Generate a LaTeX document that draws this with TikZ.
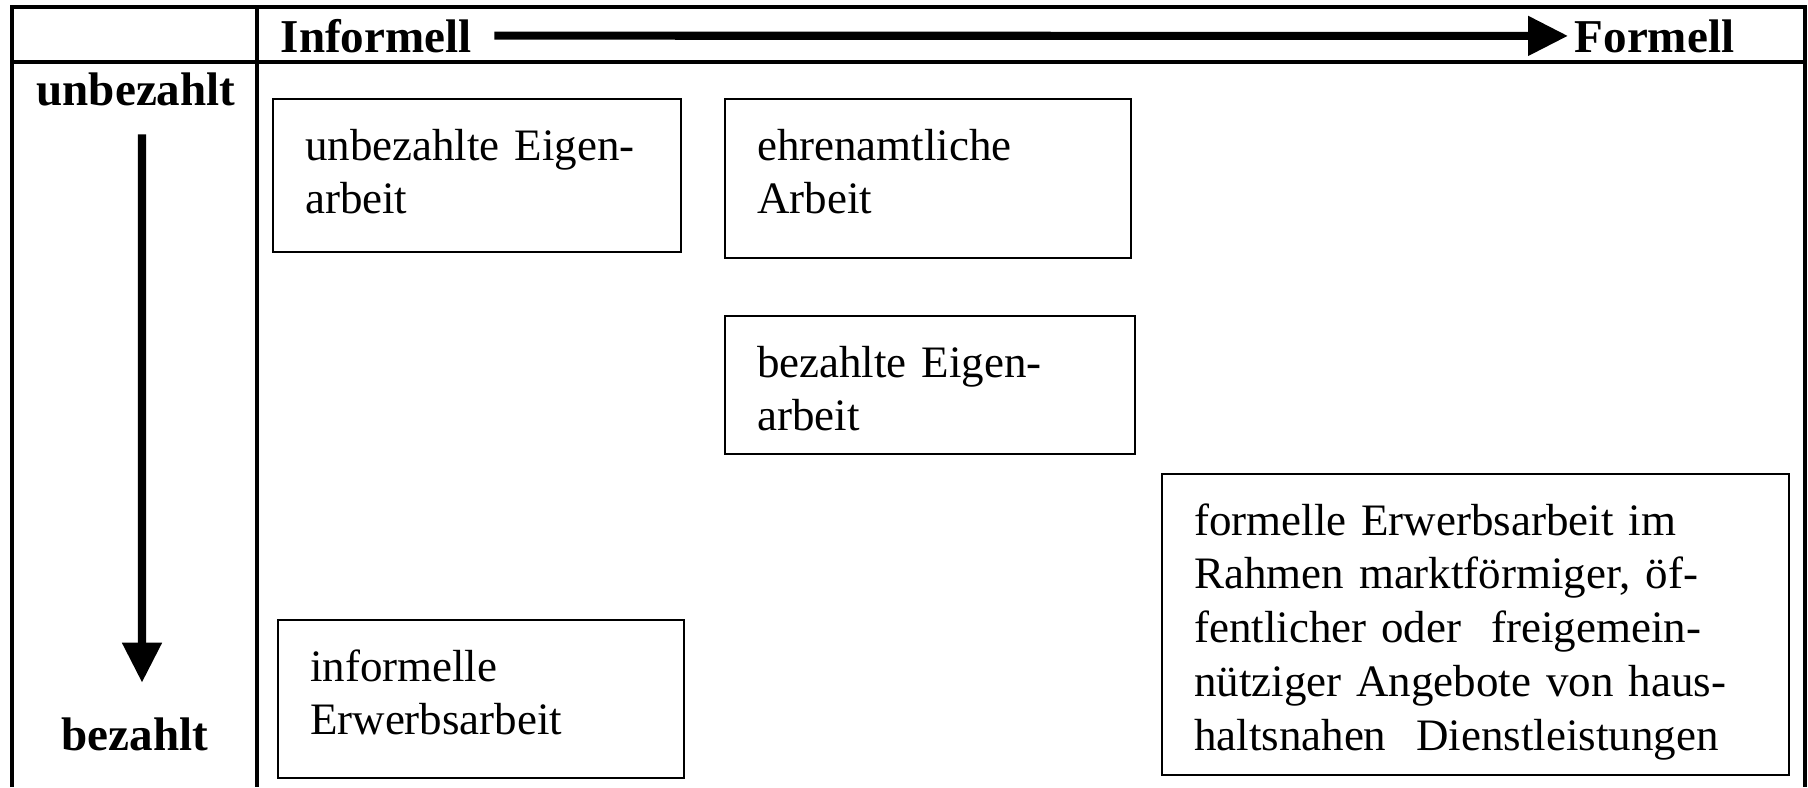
\documentclass[tikz,border=0pt]{standalone}
\usepackage{fontspec}
\setmainfont{Liberation Serif}
\usetikzlibrary{arrows.meta}

\begin{document}
\begin{tikzpicture}[
  feld/.style={draw=black, line width=0.6pt, anchor=north west, align=left,
    inner xsep=0.32cm, inner ysep=0pt, text height=0.61cm,
    font=\fontsize{12.8}{15.3}\selectfont},
  achse/.style={inner sep=0.1cm, font=\fontsize{13.4}{16}\selectfont\bfseries},
  pfeil/.style={line width=2.3pt, -{Triangle[length=0.40cm,width=0.38cm]}}
]

%fixing the size of the picture
\useasboundingbox (0,0) rectangle (18.08,-7.87);

%drawing the frame
\draw[line width=0.9pt] (0.12,-7.87) -- (0.12,-0.07) -- (18.05,-0.07) -- (18.05,-7.87);
\draw[line width=0.9pt] (0.12,-0.62) -- (18.05,-0.62);
\draw[line width=0.9pt] (2.57,-0.07) -- (2.57,-7.87);

%labels of the two axes
\node[achse, anchor=base west] (inf) at (2.70,-0.52) {Informell};
\node[achse, anchor=base west] (form) at (15.64,-0.52) {Formell};
\node[achse, anchor=base] (unb) at (1.36,-1.05) {unbezahlt};
\node[achse, anchor=base] (bez) at (1.35,-7.50) {bezahlt};

%the two arrows
\draw[pfeil, shorten <=0.12cm, shorten >=-0.04cm] (inf.east) -- (form.west);
\draw[pfeil, shorten <=0.18cm, shorten >=0.24cm] ([xshift=0.06cm]unb.south) -- ([xshift=0.07cm]bez.north);

%the boxes
\node[feld, text width=3.44cm, text depth=0.92cm] (uneigen) at (2.72,-0.98) {unbezahlte Eigen-\\arbeit};
\node[feld, text width=3.42cm, text depth=0.98cm] (ehren) at (7.24,-0.98) {ehrenamtliche\\Arbeit};
\node[feld, text width=3.46cm, text depth=0.77cm] (bezeigen) at (7.24,-3.15) {bezahlte Eigen-\\arbeit};
\node[feld, text width=3.42cm, text depth=0.97cm] (inferwerb) at (2.77,-6.19) {informelle\\Erwerbsarbeit};
\node[feld, text width=5.63cm, text depth=2.40cm] (formerwerb) at (11.61,-4.73) {formelle Erwerbsarbeit im\\Rahmen marktförmiger, öf-\\fentlicher oder~~freigemein-\\nütziger Angebote von haus-\\haltsnahen~~Dienstleistungen};

\end{tikzpicture}
\end{document}
